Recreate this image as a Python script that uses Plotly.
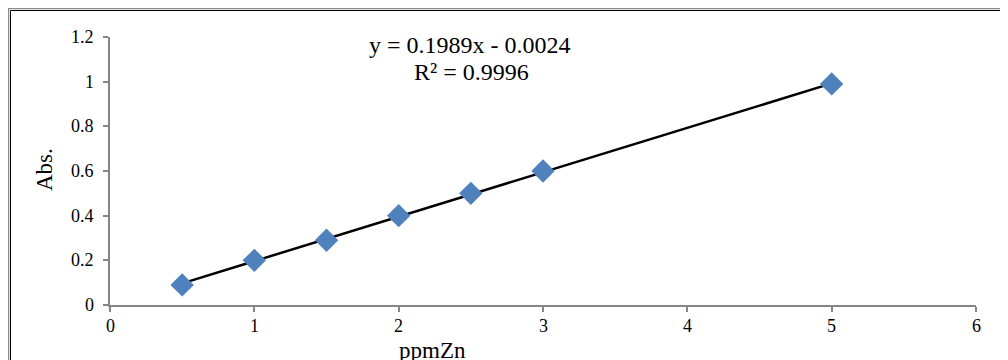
import plotly.graph_objects as go

ppm = [0.5, 1, 1.5, 2, 2.5, 3, 5]
absorb = [0.09, 0.20, 0.29, 0.40, 0.50, 0.60, 0.99]
slope = 0.1989
intercept = -0.0024
fit_x = [0.5, 5]
fit_y = [slope * v + intercept for v in fit_x]

xticks = [0, 1, 2, 3, 4, 5, 6]
yticks = [0, 0.2, 0.4, 0.6, 0.8, 1, 1.2]
ytick_text = ["0", "0.2", "0.4", "0.6", "0.8", "1", "1.2"]
xtick_text = ["0", "1", "2", "3", "4", "5", "6"]

# page body has an 8px margin, so figure coordinates = picture coordinates - 8
OFF = 8
W, H = 1008 - OFF, 360 - OFF
L = 110 - OFF
T = 37 - OFF
R = W - (976 - OFF)
B = H - (305 - OFF)
pw, ph = W - L - R, H - T - B


def px2x(px):
    return (px - OFF - L) / pw


def py2y(py):
    return (H - B - (py - OFF)) / ph


SERIF = "Liberation Serif"
tick_font = dict(family=SERIF, size=18, color="black")

fig = go.Figure()
fig.add_trace(go.Scatter(x=fit_x, y=fit_y, mode="lines",
                         line=dict(color="black", width=2.5), showlegend=False))
fig.add_trace(go.Scatter(x=ppm, y=absorb, mode="markers",
                         marker=dict(symbol="diamond", size=18, color="#4F81BD",
                                     line=dict(width=0)), showlegend=False))

annotations = [
    dict(text="y = 0.1989x - 0.0024", xref="paper", yref="paper",
         x=px2x(470), y=py2y(45), xanchor="center", yanchor="middle",
         showarrow=False, font=dict(family=SERIF, size=24, color="black")),
    dict(text="R² = 0.9996", xref="paper", yref="paper",
         x=px2x(471), y=py2y(72), xanchor="center", yanchor="middle",
         showarrow=False, font=dict(family=SERIF, size=24, color="black")),
    dict(text="Abs.", xref="paper", yref="paper", x=px2x(44), y=py2y(170),
         xanchor="center", yanchor="middle", textangle=-90, showarrow=False,
         font=dict(family=SERIF, size=23, color="black")),
    dict(text="ppmZn", xref="paper", yref="paper", x=px2x(432), y=py2y(350),
         xanchor="center", yanchor="middle", showarrow=False,
         font=dict(family=SERIF, size=23, color="black")),
]
# tick labels drawn at the axis tick positions
for v, t in zip(xticks, xtick_text):
    annotations.append(dict(text=t, xref="x", yref="paper", x=v, y=py2y(326),
                            xanchor="center", yanchor="middle", showarrow=False,
                            font=tick_font))
for v, t in zip(yticks, ytick_text):
    annotations.append(dict(text=t, xref="paper", yref="y", x=px2x(96), y=v,
                            xanchor="right", yanchor="middle", showarrow=False,
                            font=tick_font))

fig.update_layout(
    width=W, height=H,
    margin=dict(l=L, r=R, t=T, b=B),
    paper_bgcolor="white", plot_bgcolor="white",
    font=dict(family=SERIF, size=18, color="black"),
    shapes=[
        dict(type="rect", xref="paper", yref="paper",
             x0=px2x(8.5), x1=px2x(1004.5), y0=py2y(380), y1=py2y(8.5),
             line=dict(color="#8c8c8c", width=1.5), layer="below"),
        dict(type="rect", xref="paper", yref="paper",
             x0=px2x(10.5), x1=px2x(1002.5), y0=py2y(378), y1=py2y(10.5),
             line=dict(color="black", width=1), layer="below"),
    ],
    annotations=annotations,
)

for upd, rng, tv in ((fig.update_xaxes, [0, 6], xticks),
                     (fig.update_yaxes, [0, 1.2], yticks)):
    upd(range=rng, tickmode="array", tickvals=tv, showticklabels=False,
        showgrid=False, zeroline=False, showline=True,
        linecolor="#868686", linewidth=2, ticks="outside", ticklen=5,
        tickwidth=2, tickcolor="#868686")

fig.write_html("out.html")
